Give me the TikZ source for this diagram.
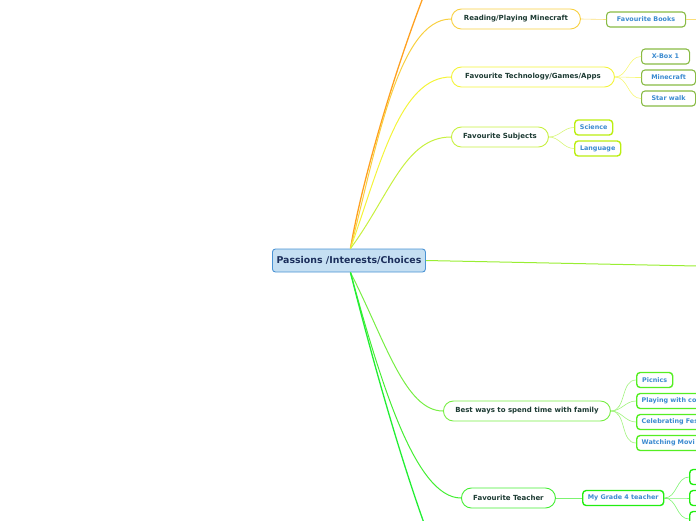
\documentclass[tikz,border=0pt]{standalone}
\usepackage{fontspec}
\setmainfont{DejaVu Sans}
\usetikzlibrary{positioning}
\definecolor{mapNavy}{HTML}{1C2F5C}
\definecolor{mapDark}{HTML}{1D3B33}
\definecolor{mapBlue}{HTML}{3A8AD0}
\definecolor{rootFill}{HTML}{C5DFF2}
\definecolor{rootLine}{HTML}{4A93D4}
\definecolor{leafGreen}{HTML}{88BB44}
\definecolor{cOrange}{HTML}{FFA020}
\definecolor{cGold}{HTML}{F8D040}
\definecolor{cYellow}{HTML}{F4F43A}
\definecolor{cLime}{HTML}{C8F040}
\definecolor{cLeafLime}{HTML}{BBEE11}
\definecolor{cGreenA}{HTML}{99EE33}
\definecolor{cGreenB}{HTML}{77EE44}
\definecolor{cLeafB}{HTML}{55EE22}
\definecolor{cGreenC}{HTML}{44EE33}
\definecolor{cLeafC}{HTML}{22EE11}
\definecolor{cGreenD}{HTML}{22EE33}

\begin{document}
\begin{tikzpicture}[x=1pt, y=1pt,
  root/.style={rectangle, rounded corners=3pt, draw=rootLine, fill=rootFill,
               line width=0.9pt, minimum height=23pt, minimum width=153pt,
               inner sep=0pt, font=\fontsize{9.4}{10}\selectfont\bfseries,
               text=mapNavy, anchor=west},
  topic/.style={rectangle, rounded corners=10pt, fill=white, line width=0.9pt,
                minimum height=20pt, inner sep=0pt,
                font=\fontsize{7}{8}\selectfont\bfseries, text=mapDark,
                anchor=west},
  leaf/.style={rectangle, rounded corners=3.5pt, fill=white, line width=1.1pt,
               minimum height=15pt, inner sep=0pt,
               font=\fontsize{6.4}{7}\selectfont\bfseries, text=mapBlue,
               anchor=west},
  cut/.style={text width=80pt, align=left, inner xsep=5pt},
  branch/.style={line width=1pt},
  twig/.style={line width=0.6pt},
]
\useasboundingbox (0,0) rectangle (696,-520);
\clip (0,0) rectangle (696,-520);

% centre
\node[root] (hub) at (272,-260.5) {Passions /Interests/Choices};
\coordinate (hubN) at ([xshift=1.5pt]hub.north);
\coordinate (hubS) at ([xshift=1.5pt]hub.south);

% upper topics
\node[topic, draw=cGold, minimum width=129pt] (reading) at (451,-19) {Reading/Playing Minecraft};
\node[leaf, draw=leafGreen, minimum width=79pt] (books) at (606,-19.5) {Favourite Books};
\coordinate (booksnext) at (700,-19.5);

\node[topic, draw=cYellow, minimum width=163pt] (tech) at (451,-77) {Favourite Technology/Games/Apps};
\node[leaf, draw=leafGreen, minimum width=48pt] (xbox) at (641,-56.5) {X-Box 1};
\node[leaf, draw=leafGreen, minimum width=54pt] (minecraft) at (641,-77.5) {Minecraft};
\node[leaf, draw=leafGreen, minimum width=54pt] (starwalk) at (641,-98.5) {Star walk};

\node[topic, draw=cLime, minimum width=97pt] (subjects) at (451,-137) {Favourite Subjects};
\node[leaf, draw=cLeafLime, line width=1.4pt, minimum width=38pt] (science) at (574,-127.5) {Science};
\node[leaf, draw=cLeafLime, line width=1.4pt, minimum width=46pt] (language) at (574,-148.5) {Language};

\coordinate (rightend) at (697,-266);
\coordinate (topend) at (424,5);
\coordinate (bottomend) at (432,-545);

% lower topics
\node[topic, draw=cGreenB, minimum width=167pt] (family) at (443,-411) {Best ways to spend time with family};
\node[leaf, draw=cLeafB, line width=1.4pt, minimum width=36pt] (picnics) at (636,-380) {Picnics};
\node[leaf, draw=cLeafB, line width=1.4pt, cut] (playing) at (636,-401) {Playing with co};
\node[leaf, draw=cLeafB, line width=1.4pt, cut] (celebrating) at (636,-422) {Celebrating Fes};
\node[leaf, draw=cLeafB, line width=1.4pt, cut] (movies) at (636,-443) {Watching Movi};

\node[topic, draw=cGreenC, minimum width=94pt] (teacher) at (461,-498) {Favourite Teacher};
\node[leaf, draw=cLeafC, line width=1.4pt, minimum width=81pt] (grade) at (582,-498) {My Grade 4 teacher};
\foreach \n/\y in {ga/-477, gb/-498, gc/-519}
  \node[leaf, draw=cLeafC, line width=1.4pt, minimum width=40pt] (\n) at (689,\y) {};

% main branches
\draw[branch, cOrange, line width=1.3pt] (hubN) .. controls (362,-180) and (395,-70) .. (topend);
\draw[branch, cGold] (hubN) .. controls (376,-150) and (398,-19) .. (reading.west);
\draw[branch, cYellow] (hubN) .. controls (380,-165) and (400,-77) .. (tech.west);
\draw[branch, cLime] (hubN) .. controls (390,-195) and (405,-137) .. (subjects.west);
\draw[branch, cGreenA] (hub.east) -- (rightend);
\draw[branch, cGreenB] (hubS) .. controls (385,-340) and (405,-411) .. (family.west);
\draw[branch, cGreenC] (hubS) .. controls (380,-380) and (415,-498) .. (teacher.west);
\draw[branch, cGreenD, line width=1.3pt] (hubS) .. controls (370,-350) and (400,-460) .. (bottomend);

% sub branches
\draw[twig, cGold!70] (reading.east) -- (books.west);
\draw[twig, cGold!70] (books.east) -- (booksnext);
\foreach \c in {xbox, minecraft, starwalk}
  \draw[twig, cYellow!70] (tech.east) to[out=0, in=180] (\c.west);
\foreach \c in {science, language}
  \draw[twig, cLime!70] (subjects.east) to[out=0, in=180] (\c.west);
\foreach \c in {picnics, playing, celebrating, movies}
  \draw[twig, cGreenB!70] (family.east) to[out=0, in=180] (\c.west);
\draw[twig, cGreenC!70] (teacher.east) -- (grade.west);
\foreach \c in {ga, gb, gc}
  \draw[twig, cGreenC!70] (grade.east) to[out=0, in=180] (\c.west);
\end{tikzpicture}
\end{document}
